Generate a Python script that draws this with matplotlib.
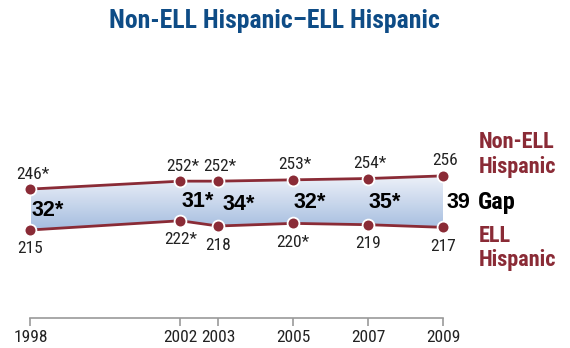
import numpy as np
import matplotlib
matplotlib.use("Agg")
import matplotlib.pyplot as plt
from matplotlib.colors import LinearSegmentedColormap

# Scores over the assessment years
years = [1998, 2002, 2003, 2005, 2007, 2009]
non_ell = [246, 252, 252, 253, 254, 256]
ell = [215, 222, 218, 220, 219, 217]
non_ell_sig = [True, True, True, True, True, False]
ell_sig = [False, True, False, True, False, False]
gaps = [32, 31, 34, 32, 35, 39]
gap_sig = [True, True, True, True, True, False]
title = "Non-ELL Hispanic\u2013ELL Hispanic"

RED = "#8a2b36"
BLUE = "#0e4c86"
NARROW = dict(family=["Roboto Condensed", "DejaVu Sans"], fontstretch="condensed")
WIDE = dict(family=["Liberation Sans", "DejaVu Sans"])

fig = plt.figure(figsize=(5.7, 3.48), dpi=100)
W, H = 570, 348
ax = fig.add_axes([30.5 / W, 30 / H, (443 - 30.5) / W, (318 - 100) / H])

# Gradient band between the two lines
band = ax.fill_between(years, ell, non_ell, facecolor="none", edgecolor="none")
cmap = LinearSegmentedColormap.from_list("band", ["#a4bcdf", "#eef2f9"])
grad = np.linspace(0, 1, 256).reshape(-1, 1)
img = ax.imshow(grad, cmap=cmap, origin="lower", aspect="auto",
                extent=[min(years), max(years), min(ell), max(non_ell)],
                zorder=1, interpolation="bilinear")
img.set_clip_path(band.get_paths()[0], ax.transData)
ax.set_xlim(1998, 2009)
ax.set_ylim(148.3, 313.5)

for series in (non_ell, ell):
    ax.plot(years, series, color=RED, lw=2.0, zorder=3, solid_capstyle="butt",
            marker="o", markersize=8.5, markerfacecolor=RED,
            markeredgecolor="white", markeredgewidth=1.3, clip_on=False)

def star(flag):
    return "*" if flag else ""

for x, v, s in zip(years, non_ell, non_ell_sig):
    ax.annotate(f"{v}{star(s)}", (x, v), xytext=(2, 15), textcoords="offset pixels",
                ha="center", va="center", fontsize=12.5, color="#222222",
                annotation_clip=False, **NARROW)
for x, v, s in zip(years, ell, ell_sig):
    ax.annotate(f"{v}{star(s)}", (x, v), xytext=(0, -19), textcoords="offset pixels",
                ha="center", va="center", fontsize=12.5, color="#222222",
                annotation_clip=False, **NARROW)

# Gap values placed between the lines
nudge = {2003: 5, 2009: 4}
for x, hi, lo, g, s in zip(years, non_ell, ell, gaps, gap_sig):
    ax.annotate(f"{g}{star(s)}", (x, (hi + lo) / 2), xytext=(nudge.get(x, 1), -1),
                textcoords="offset pixels", ha="left", va="center",
                fontsize=15.5, fontweight="bold", color="black",
                annotation_clip=False, zorder=4, **WIDE)

ax.annotate("Gap", (years[-1], (non_ell[-1] + ell[-1]) / 2), xytext=(35, -1),
            textcoords="offset pixels", ha="left", va="center", fontsize=17.5,
            fontweight="bold", color="black", annotation_clip=False, **NARROW)

# Series names at the right end
for txt, dy in (("Non-ELL", 28), ("Hispanic", 3)):
    ax.annotate(txt, (years[-1], non_ell[-1]), xytext=(36, dy),
                textcoords="offset pixels", ha="left", va="baseline",
                fontsize=16, fontweight="bold", color=RED,
                annotation_clip=False, **NARROW)
for txt, dy in (("ELL", -15), ("Hispanic", -39)):
    ax.annotate(txt, (years[-1], ell[-1]), xytext=(36, dy),
                textcoords="offset pixels", ha="left", va="baseline",
                fontsize=16, fontweight="bold", color=RED,
                annotation_clip=False, **NARROW)

# Timeline axis
for side in ("left", "right", "top"):
    ax.spines[side].set_visible(False)
ax.spines["bottom"].set_color("#9a9a9a")
ax.spines["bottom"].set_linewidth(1.2)
ax.set_yticks([])
ax.set_xticks(years)
ax.set_xticklabels([str(y) for y in years], fontsize=12.5, color="#222222", **NARROW)
ax.tick_params(axis="x", direction="out", length=6, width=1.2, color="#9a9a9a", pad=3)
ax.patch.set_visible(False)

fig.text(274 / W, 1 - 21 / H, title, ha="center", va="center", fontsize=18.5,
         fontweight="bold", color=BLUE, **NARROW)

fig.savefig("out.png", dpi=100)
